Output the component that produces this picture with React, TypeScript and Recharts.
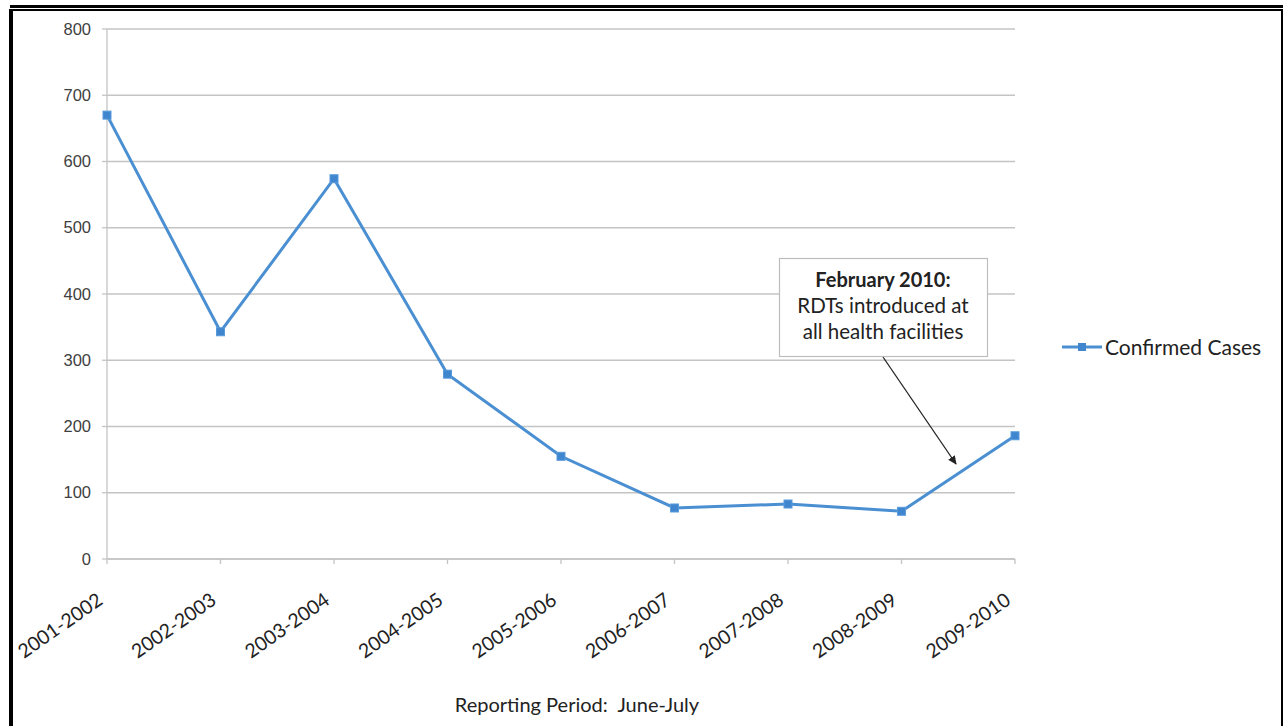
import React from 'react';
import { LineChart, Line, XAxis, YAxis, CartesianGrid, Legend, Customized } from 'recharts';

const periods = ['2001-2002', '2002-2003', '2003-2004', '2004-2005', '2005-2006', '2006-2007', '2007-2008', '2008-2009', '2009-2010'];
const confirmedCases = [670, 343, 574, 279, 155, 77, 83, 72, 186];
const yTicks = [0, 100, 200, 300, 400, 500, 600, 700, 800];
const seriesName = 'Confirmed Cases';
const xAxisTitle = 'Reporting Period:  June-July';
const noteLines = ['February 2010:', 'RDTs introduced at', 'all health facilities'];

const data = periods.map((p, i) => ({ period: p, cases: confirmedCases[i] }));

const BLUE = '#4a8fd2';
const GRID = '#c4c4c4';
const TEXT = '#222222';
const CAL = 'Lato, "Open Sans", sans-serif';

const XTick = (props: any) => {
  const { x, y, payload } = props;
  return (
    <g transform={`translate(${x - 3},${y + 37})`}>
      <text x={0} y={0} textAnchor="end" transform="rotate(-35)" fontFamily={CAL} fontSize={19.5} fill={TEXT}>
        {payload.value}
      </text>
    </g>
  );
};

const YTick = (props: any) => {
  const { x, y, payload } = props;
  return (
    <text x={x - 9} y={y} dy={5.5} textAnchor="end" fontFamily='"Liberation Sans", Arial, sans-serif' fontSize={16.5} fill="#404040">
      {payload.value}
    </text>
  );
};

const SquareDot = (props: any) => {
  const { cx, cy, index } = props;
  if (cx == null || cy == null) return null;
  return <rect key={`d${index}`} x={cx - 4} y={cy - 4} width={8} height={8} fill="#3f86cf" stroke="#5a9bdb" strokeWidth={1} />;
};

const LegendContent = () => (
  <div style={{ display: 'flex', alignItems: 'center', fontFamily: CAL, fontSize: 21, color: TEXT, whiteSpace: 'nowrap' }}>
    <svg width={42} height={12} style={{ marginRight: 1 }}>
      <line x1={0} y1={6} x2={40} y2={6} stroke={BLUE} strokeWidth={3} />
      <rect x={16} y={2} width={8} height={8} fill="#3f86cf" />
    </svg>
    <span>{seriesName}</span>
  </div>
);

const Decorations = () => (
  <g>
    {/* outer frame */}
    <rect x={10} y={5} width={1273} height={3} fill="#000" />
    <rect x={10} y={9} width={1271} height={2} fill="#000" />
    <rect x={9} y={9} width={4} height={717} fill="#000" />
    <rect x={1281} y={9} width={2} height={717} fill="#000" />
    {/* axis title */}
    <text x={577} y={712} textAnchor="middle" fontFamily={CAL} fontSize={20} fill={TEXT} style={{ whiteSpace: 'pre' }}>{xAxisTitle}</text>
    {/* annotation */}
    <defs>
      <marker id="arrowHead" markerWidth="10" markerHeight="10" refX="8" refY="4" orient="auto" markerUnits="userSpaceOnUse">
        <path d="M0,0 L9,4 L0,8 Z" fill="#222" />
      </marker>
    </defs>
    <line x1={883} y1={357} x2={956} y2={464} stroke="#222" strokeWidth={1.3} markerEnd="url(#arrowHead)" />
    <rect x={779.5} y={258.5} width={208} height={98} fill="#fff" stroke="#bdbdbd" strokeWidth={1.2} />
    <text x={883} y={287} textAnchor="middle" fontFamily={CAL} fontSize={20} fontWeight={700} fill={TEXT}>{noteLines[0]}</text>
    <text x={883} y={313} textAnchor="middle" fontFamily={CAL} fontSize={20.5} fill={TEXT}>{noteLines[1]}</text>
    <text x={883} y={339} textAnchor="middle" fontFamily={CAL} fontSize={20.5} fill={TEXT}>{noteLines[2]}</text>
  </g>
);

export default function App() {
  return (
    <div style={{ position: 'absolute', left: 0, top: 0, width: 1283, height: 726, background: '#fff' }}>
      <LineChart width={1283} height={726} data={data} margin={{ top: 29, right: 48, bottom: 67, left: 0 }}>
        <CartesianGrid horizontal vertical={false} stroke={GRID} strokeWidth={1.3} />
        <XAxis
          dataKey="period"
          height={100}
          interval={0}
          padding={{ left: 0, right: 0 }}
          axisLine={{ stroke: GRID, strokeWidth: 1.3 }}
          tickLine={{ stroke: GRID, strokeWidth: 1.3 }}
          tickSize={5}
          tick={<XTick />}
        />
        <YAxis
          width={107}
          domain={[0, 800]}
          ticks={yTicks}
          interval={0}
          axisLine={{ stroke: GRID, strokeWidth: 1.3 }}
          tickLine={{ stroke: GRID, strokeWidth: 1.3 }}
          tickSize={5}
          tick={<YTick />}
        />
        <Legend
          layout="vertical"
          align="right"
          verticalAlign="middle"
          content={<LegendContent />}
          wrapperStyle={{ left: 1062, top: 334, right: 'auto', width: 220, height: 26 }}
        />
        <Line
          type="linear"
          dataKey="cases"
          name={seriesName}
          stroke={BLUE}
          strokeWidth={3}
          dot={SquareDot}
          activeDot={false}
          isAnimationActive={false}
        />
        <Customized component={Decorations} />
      </LineChart>
    </div>
  );
}
